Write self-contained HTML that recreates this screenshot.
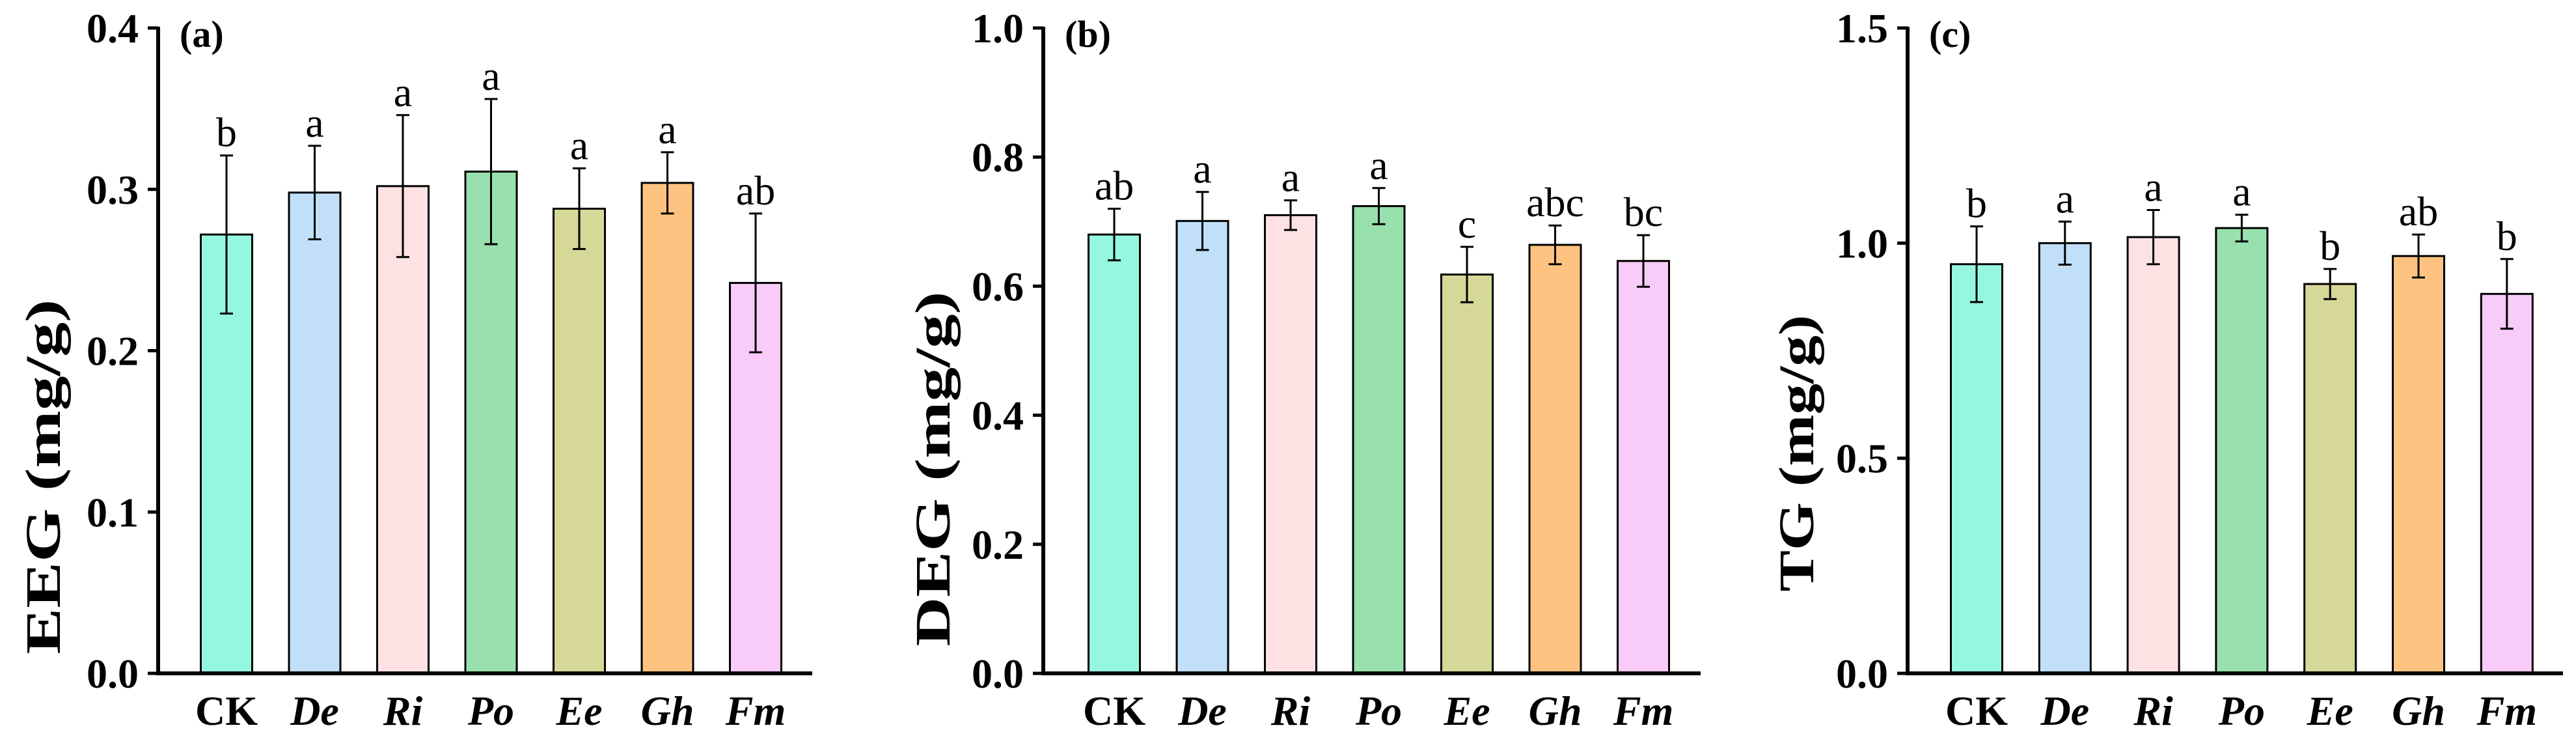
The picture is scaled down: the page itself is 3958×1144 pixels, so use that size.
<!DOCTYPE html>
<html><head><meta charset="utf-8"><style>
html,body{margin:0;padding:0;background:#fff;}
svg{display:block;font-family:"Liberation Serif",serif;}
</style></head><body>
<svg id="chart" width="3958" height="1144" viewBox="0 0 3958 1144" xmlns="http://www.w3.org/2000/svg"></svg>
<script>
const categories = ["CK","De","Ri","Po","Ee","Gh","Fm"];
const colors = ["#96f7e0","#c1dff8","#fde1e3","#98e0ad","#d6d898","#fec380","#f8cbf8"];
const eegValues = [0.272,0.298,0.302,0.311,0.288,0.304,0.242];
const eegErrors = [0.049,0.029,0.044,0.045,0.025,0.019,0.043];
const eegLetters = ["b","a","a","a","a","a","ab"];
const degValues = [0.680,0.701,0.710,0.724,0.618,0.664,0.639];
const degErrors = [0.040,0.045,0.023,0.028,0.043,0.030,0.040];
const degLetters = ["ab","a","a","a","c","abc","bc"];
const tgValues = [0.951,1.000,1.014,1.035,0.905,0.970,0.882];
const tgErrors = [0.088,0.050,0.063,0.031,0.035,0.050,0.081];
const tgLetters = ["b","a","a","a","b","ab","b"];
const eegTicks = ["0.0","0.1","0.2","0.3","0.4"];
const degTicks = ["0.0","0.2","0.4","0.6","0.8","1.0"];
const tgTicks = ["0.0","0.5","1.0","1.5"];

const NS="http://www.w3.org/2000/svg";
const svg=document.getElementById('chart');
function el(tag,attrs,parent){const e=document.createElementNS(NS,tag);for(const k in attrs)e.setAttribute(k,attrs[k]);(parent||svg).appendChild(e);return e;}

function panel(cfg){
  const g=el('g',{});
  
  
  const y0=1034, yTop=43, ax=cfg.ax, xEnd=cfg.xEnd;
  const ymax=parseFloat(cfg.ticks[cfg.ticks.length-1]);
  const Y=v=>y0-(v/ymax)*(y0-yTop);
  const X=i=>cfg.firstCenter+i*cfg.step;
  const bw=79;
  cfg.values.forEach((v,i)=>{
    const r=el('rect',{x:X(i)-bw/2,y:Y(v),width:bw,height:y0-Y(v),fill:colors[i],stroke:'#000','stroke-width':3},g);
    
    
    const e=cfg.errors[i], yh=Y(v+e), yl=Y(v-e);
    const eb=el('path',{d:`M${X(i)},${yh}V${yl}M${X(i)-10},${yh}H${X(i)+10}M${X(i)-10},${yl}H${X(i)+10}`,stroke:'#000','stroke-width':3,fill:'none'},g);
    
    
    const t=el('text',{x:X(i),y:yh-14,'text-anchor':'middle','font-size':64},g);
    t.textContent=cfg.letters[i];
    
    
    const c=el('text',{x:X(i),y:1113,'text-anchor':'middle','font-size':64,'font-weight':'bold','font-style':i===0?'normal':'italic'},g);
    c.textContent=categories[i];
    
    
  });
  const axes=el('path',{d:`M${ax},${yTop-2}V${y0}H${xEnd}`,stroke:'#000','stroke-width':6,fill:'none'},g);
  
  
  cfg.ticks.forEach(tk=>{
    const v=parseFloat(tk), y=Y(v);
    el('line',{x1:ax-16,x2:ax,y1:y,y2:y,stroke:'#000','stroke-width':5},g);
    const t=el('text',{x:ax-30,y:y+22,'text-anchor':'end','font-size':64,'font-weight':'bold'},g);
    t.textContent=tk;
    
    
  });
  const yt=el('text',{x:0,y:0,'text-anchor':'middle','font-size':76,'font-weight':'bold',textLength:cfg.titleLen,lengthAdjust:'spacingAndGlyphs',transform:`translate(${cfg.titleX},${cfg.titleY}) rotate(-90)`},g);
  yt.textContent=cfg.title;
  
  
  const pl=el('text',{x:ax+33,y:72,'font-size':58,'font-weight':'bold'},g);
  pl.textContent=cfg.label;
  
  
}
panel({name:'panel-eeg',ax:243,xEnd:1248,firstCenter:348,step:135.5,values:eegValues,errors:eegErrors,letters:eegLetters,ticks:eegTicks,title:'EEG (mg/g)',label:'(a)',titleX:92,titleY:732,titleLen:545});
panel({name:'panel-deg',ax:1603,xEnd:2613,firstCenter:1712,step:135.5,values:degValues,errors:degErrors,letters:degLetters,ticks:degTicks,title:'DEG (mg/g)',label:'(b)',titleX:1459,titleY:720,titleLen:545});
panel({name:'panel-tg',ax:2931,xEnd:3938,firstCenter:3037,step:135.8,values:tgValues,errors:tgErrors,letters:tgLetters,ticks:tgTicks,title:'TG (mg/g)',label:'(c)',titleX:2786,titleY:696,titleLen:425});
</script>
</body></html>
